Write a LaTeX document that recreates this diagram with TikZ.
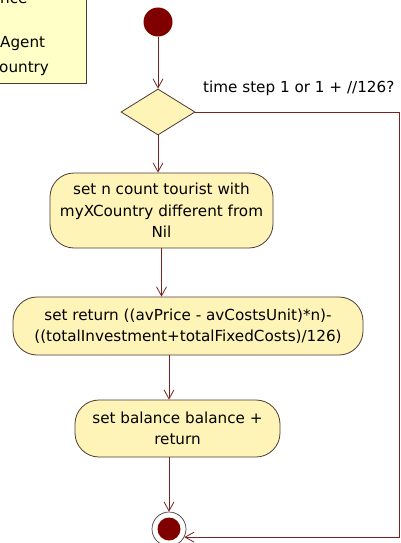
\documentclass[tikz,border=0pt]{standalone}
\usepackage{fontspec}
\setmainfont{DejaVu Sans}
\usetikzlibrary{arrows.meta,shapes.geometric}
\definecolor{actfill}{HTML}{FFF4B8}
\definecolor{notefill}{HTML}{FFFFC8}
\definecolor{edge}{HTML}{4B3A33}
\definecolor{flow}{HTML}{7A2222}
\definecolor{dotred}{HTML}{800000}
\begin{document}
\begin{tikzpicture}[x=1pt,y=-1pt,
  every node/.append style={font=\fontsize{15.2}{21.5}\selectfont, text=black},
  act/.style={draw=edge, line width=0.8pt, fill=actfill, rounded corners=24pt,
    align=center, inner sep=0pt},
  decision/.style={diamond, draw=edge, line width=0.8pt, fill=actfill,
    inner sep=0pt, minimum width=74pt, minimum height=46pt},
  flowline/.style={draw=flow, line width=0.8pt,
    -{Straight Barb[length=9pt,width=10pt,line width=0.8pt]}},
  notebox/.style={draw=edge, line width=0.8pt, fill=notefill, inner sep=0pt}]
\useasboundingbox (0,0) rectangle (401,543);
\clip (0,0) rectangle (401,543);

% comment note, running off the top-left corner
\node[notebox, minimum width=98pt, minimum height=95pt] (note) at (37,35.5) {};
\node[anchor=base west, inner sep=0pt] (noteA) at (0,4) {nce};
\node[anchor=base west, inner sep=0pt] (noteB) at (0,48) {Agent};
\node[anchor=base west, inner sep=0pt] (noteC) at (-1,73) {ountry};

% initial and final states
\node[circle, fill=dotred, minimum size=29pt, inner sep=0pt] (start) at (158,22) {};
\node[circle, draw=edge, line width=0.7pt, fill=white, minimum size=34pt, inner sep=0pt] (final) at (169,529) {};
\node[circle, fill=dotred, minimum size=23pt, inner sep=0pt] (finaldot) at (final.center) {};

% decision and actions
\node[decision] (dec) at (158,112) {};
\node[anchor=west, inner sep=0pt] (guard) at (203,88) {time step 1 or 1 + //126?};
\node[act, minimum width=223pt, minimum height=75pt] (count) at (161.5,210.5)
  {set n count tourist with\\myXCountry different from\\Nil};
\node[act, minimum width=350pt, minimum height=58pt] (ret) at (188,326)
  {set return ((avPrice - avCostsUnit)*n)-\\((totalInvestment+totalFixedCosts)/126)};
\node[act, minimum width=205pt, minimum height=57pt] (bal) at (177.5,428.5)
  {set balance balance +\\return};

\coordinate (rightrail) at (399,112);

% control flow
\draw[flowline] (start) -- (dec.north);
\draw[flowline] (dec.south) -- (dec.south |- count.north);
\draw[flowline] (count.south) -- (count.south |- ret.north);
\draw[flowline] (ret.south -| final.north) -- (bal.north -| final.north);
\draw[flowline] (bal.south -| final.north) -- (final.north);
\draw[flowline] (dec.east) -- (rightrail) |- (final.-28);
\end{tikzpicture}
\end{document}
